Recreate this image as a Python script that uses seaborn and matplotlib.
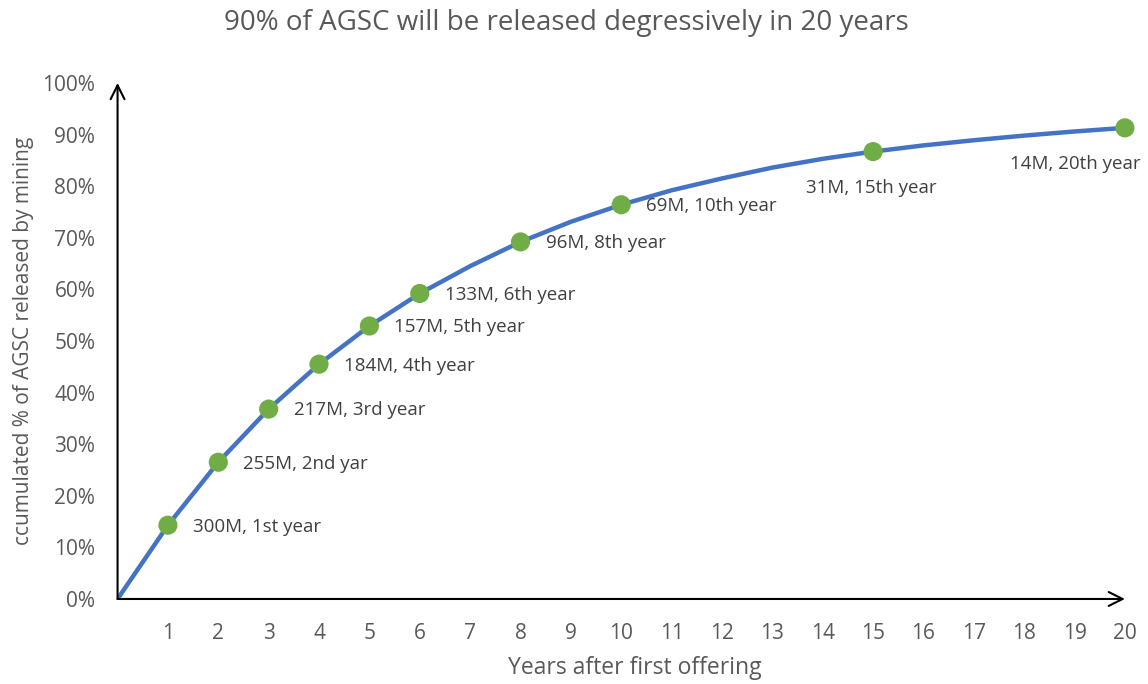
import matplotlib
matplotlib.use("Agg")
import matplotlib.pyplot as plt
import seaborn as sns
import pandas as pd

years = [0, 1, 2, 3, 4, 5, 6, 7, 8, 9, 10, 11, 12, 13, 14, 15, 16, 17, 18, 19, 20]
cumulative = [0.0, 0.143, 0.265, 0.368, 0.455, 0.529, 0.592, 0.645, 0.692, 0.731, 0.764,
              0.792, 0.815, 0.836, 0.853, 0.867, 0.879, 0.889, 0.898, 0.906, 0.913]
marker_years = [1, 2, 3, 4, 5, 6, 8, 10, 15, 20]
marker_labels = ["300M, 1st year", "255M, 2nd yar", "217M, 3rd year", "184M, 4th year",
                 "157M, 5th year", "133M, 6th year", "96M, 8th year", "69M, 10th year",
                 "31M, 15th year", "14M, 20th year"]
y_ticks = [0, 0.1, 0.2, 0.3, 0.4, 0.5, 0.6, 0.7, 0.8, 0.9, 1.0]
y_tick_labels = ["0%", "10%", "20%", "30%", "40%", "50%", "60%", "70%", "80%", "90%", "100%"]
x_ticks = list(range(1, 21))

sns.set_theme(style="white")
plt.rcParams['font.family'] = ['Open Sans', 'DejaVu Sans']

df = pd.DataFrame({"year": years, "cum": cumulative})
mdf = df[df["year"].isin(marker_years)].reset_index(drop=True)
mdf["label"] = marker_labels

fig = plt.figure(figsize=(11.48, 6.84), dpi=100)
ax = fig.add_axes([0.1024, 0.1243, 0.8775, 0.7544])

sns.lineplot(data=df, x="year", y="cum", ax=ax, color="#4472C4", linewidth=3.2, zorder=3)
sns.scatterplot(data=mdf, x="year", y="cum", ax=ax, color="#70AD47", s=190, edgecolor="none",
                zorder=4, clip_on=False)

text_color = "#595959"
label_color = "#404040"
lfs = 13.5
for i, row in mdf.iterrows():
    if row["year"] == 15:
        ax.annotate(row["label"], (row["year"], row["cum"]), xytext=(-1, -26),
                    textcoords="offset points", ha="center", va="center",
                    fontsize=lfs, color=label_color)
    elif row["year"] == 20:
        ax.annotate(row["label"], (row["year"], row["cum"]), xytext=(11, -26),
                    textcoords="offset points", ha="right", va="center",
                    fontsize=lfs, color=label_color, annotation_clip=False)
    else:
        ax.annotate(row["label"], (row["year"], row["cum"]), xytext=(18, -1),
                    textcoords="offset points", ha="left", va="center",
                    fontsize=lfs, color=label_color)

ax.set_xlim(0, 20)
ax.set_ylim(0, 1.0)
ax.set_xticks(x_ticks)
ax.set_xticklabels([str(x) for x in x_ticks])
ax.set_yticks(y_ticks)
ax.set_yticklabels(y_tick_labels)
ax.tick_params(axis="both", length=0, labelsize=15, labelcolor=text_color)
ax.tick_params(axis="x", pad=17)
ax.tick_params(axis="y", pad=16)

for s in ["top", "right", "left", "bottom"]:
    ax.spines[s].set_visible(False)

ax.annotate("", xy=(0, 1.0), xytext=(0, 0), xycoords="axes fraction",
            arrowprops=dict(arrowstyle="->", color="black", lw=1.5, mutation_scale=25,
                            shrinkA=0, shrinkB=0), annotation_clip=False)
ax.annotate("", xy=(1.0, 0), xytext=(0, 0), xycoords="axes fraction",
            arrowprops=dict(arrowstyle="->", color="black", lw=1.5, mutation_scale=25,
                            shrinkA=0, shrinkB=0), annotation_clip=False)

ax.set_xlabel("")
ax.set_ylabel("ccumulated % of AGSC released by mining", fontsize=15, color=text_color, labelpad=6)
fig.text(0.553, 0.024, "Years after first offering", ha="center", va="center",
         fontsize=16.5, color=text_color)
fig.text(0.493, 0.966, "90% of AGSC will be released degressively in 20 years",
         ha="center", va="center", fontsize=20, color=text_color)

fig.savefig("out.png", dpi=100)
